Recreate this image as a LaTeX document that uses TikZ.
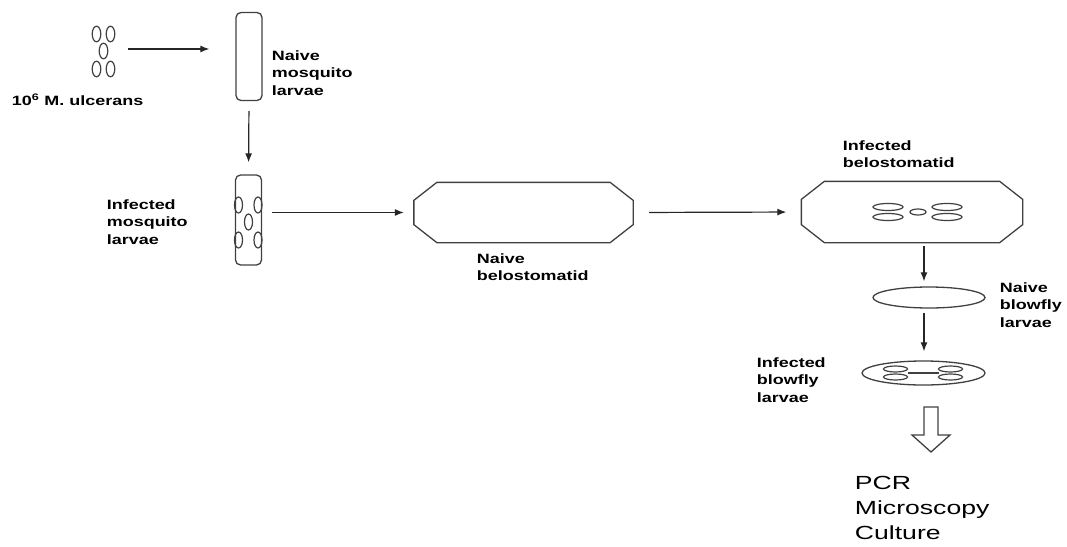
\documentclass[tikz,border=0pt]{standalone}
\usepackage{fontspec}
\setmainfont{Liberation Sans}
\usetikzlibrary{arrows.meta,shapes.geometric}

\begin{document}
\begin{tikzpicture}[x=1pt,y=-1pt,line width=1.3pt,
  ink/.style={draw=black!75},
  tube/.style={ink,rectangle,rounded corners=5pt,minimum width=26pt,minimum height=88pt,inner sep=0pt},
  octo/.style={rectangle,minimum width=218pt,minimum height=59pt,inner sep=0pt},
  larva/.style={ink,ellipse,inner sep=0pt},
  bug/.style={ink,line width=1.2pt},
  arr/.style={-{Latex[length=9pt,width=7pt]},black!85,line width=1.2pt},
  lbl/.style={anchor=west,align=left,xscale=1.33,inner sep=0pt,font=\fontsize{13.5}{17.5}\selectfont\bfseries},
  res/.style={anchor=west,align=left,xscale=1.4,inner sep=0pt,font=\fontsize{19}{25}\selectfont}]
\useasboundingbox (0,0) rectangle (1067,546);

% bacteria and mosquito larvae
\node (bact) at (103.5,49) [minimum width=28pt,minimum height=46pt] {};
\foreach \dx/\dy in {-7/-15,7/-15,0/2,-7/20,7/20} {
   \draw[bug] (bact) ++(\dx,\dy) ellipse [x radius=4.3,y radius=7.8];
}
\node[tube] (mq1) at (249,56.5) {};
\node[tube,minimum height=90pt] (mq2) at (248.5,220) {};
\foreach \dx/\dy in {-10/-15,9.5/-15,0/2,-10/20,9.5/20} {
   \draw[bug] (mq2) ++(\dx,\dy) ellipse [x radius=4,y radius=8];
}

% belostomatids
\node[octo] (bel1) at (523.5,212.5) {};
\node[octo,minimum width=220pt,minimum height=60pt] (bel2) at (912,212) {};
\foreach \b in {bel1,bel2} {
   \draw[ink] ([xshift=23pt]\b.north west) -- ([xshift=-23pt]\b.north east)
      -- ([yshift=-18pt]\b.north east) -- ([yshift=18pt]\b.south east)
      -- ([xshift=-23pt]\b.south east) -- ([xshift=23pt]\b.south west)
      -- ([yshift=18pt]\b.south west) -- ([yshift=-18pt]\b.north west) -- cycle;
}
\foreach \dx/\dy in {-24/-5,-24/5,35/-5,35/5} {
   \draw[bug] (bel2) ++(\dx,\dy) ellipse [x radius=15,y radius=3.5];
}
\draw[bug] (bel2) ++(6,0) ellipse [x radius=8,y radius=3];

% blowfly larvae
\node[larva,minimum width=112pt,minimum height=21pt] (bf1) at (929,297.5) {};
\node[larva,minimum width=123pt,minimum height=24pt] (bf2) at (923.5,373) {};
\foreach \dx/\dy in {-28/-4,-28/4,27/-4,27/4} {
   \draw[bug] (bf2) ++(\dx,\dy) ellipse [x radius=12,y radius=3];
}
\draw[bug] (bf2) ++(-16,0) -- ++(31,0);

% labels
\node[lbl] (l-bact) at (11,100) {10\textsuperscript{6} M. ulcerans};
\node[lbl] (l-mq1) at (271,73) {Naive\\mosquito\\larvae};
\node[lbl] (l-mq2) at (106,222) {Infected\\mosquito\\larvae};
\node[lbl] (l-bel1) at (476,267) {Naive\\belostomatid};
\node[lbl] (l-bel2) at (842,154) {Infected\\belostomatid};
\node[lbl] (l-bf1) at (999,305) {Naive\\blowfly\\larvae};
\node[lbl] (l-bf2) at (756,380) {Infected\\blowfly\\larvae};
\node[res] (l-res) at (854,508) {PCR\\Microscopy\\Culture};

% arrows
\coordinate (spine) at (924,0);
\draw[arr,shorten <=9.5pt,shorten >=26pt] (bact.east) -- (bact.east -| mq1.west);
\draw[arr,shorten <=10pt,shorten >=12pt] (mq1.south) -- (mq2.north);
\draw[arr,shorten <=10pt,shorten >=10pt] (mq2.east |- bel1.west) -- (bel1.west);
\draw[arr,shorten <=16pt,shorten >=15pt] (bel1.east) -- (bel2.west);
\draw[arr,shorten <=3pt,shorten >=5pt] (bel2.south -| spine) -- (bf1.north -| spine);
\draw[arr,shorten <=4pt,shorten >=9pt] (bf1.south -| spine) -- (bf2.north -| spine);

% hollow arrow to the read-outs
\coordinate (resarr) at (931,407);
\draw[ink] (resarr) ++(-7,0) -- ++(0,28) -- ++(-12,0) -- ++(19,17) -- ++(19,-17)
   -- ++(-12,0) -- ++(0,-28) -- cycle;
\end{tikzpicture}
\end{document}
